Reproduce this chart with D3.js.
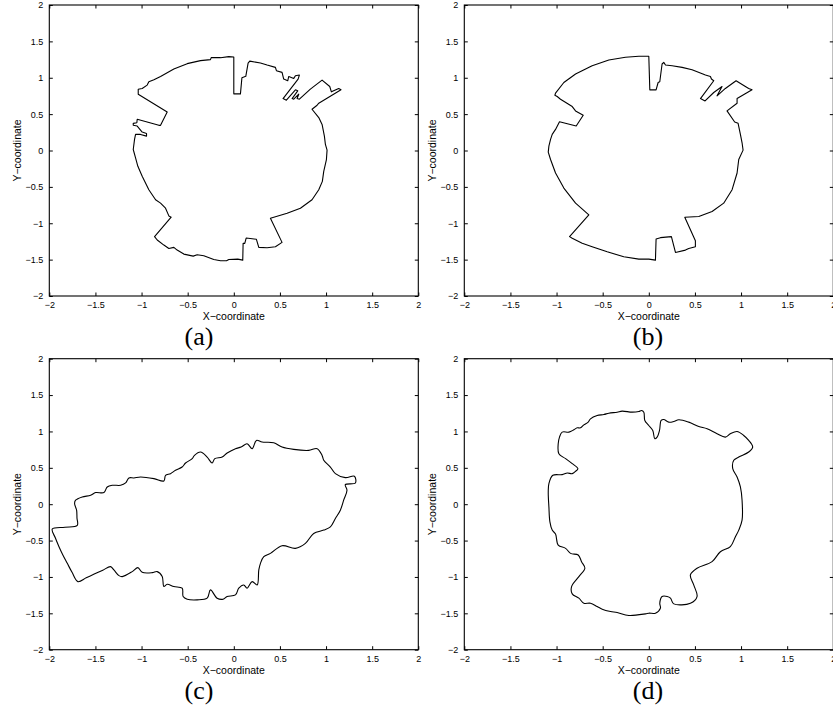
<!DOCTYPE html>
<html>
<head>
<meta charset="utf-8">
<script src="https://cdn.jsdelivr.net/npm/d3@7"></script>
<style>
  body { margin: 0; background: #fff; }
  svg { display: block; }
</style>
</head>
<body>
<script>
var width = 833,
    height = 708;

// tick values shared by both axes of every panel
var ticks = [-2, -1.5, -1, -0.5, 0, 0.5, 1, 1.5, 2];
var panelLabels = ["(a)", "(b)", "(c)", "(d)"];

// contour points [x, y]
var shapeA = [[0,1.285],[0,0.779],[0.072,0.779],[0.088,1.0],[0.13,1.02],[0.155,1.2],[0.173,1.228],[0.289,1.203],[0.361,1.175],[0.451,1.143],[0.462,1.097],[0.523,1.074],[0.541,0.982],[0.585,0.959],[0.596,1.018],[0.65,0.991],[0.668,1.028],[0.711,1.037],[0.697,0.982],[0.534,0.714],[0.570,0.691],[0.668,0.834],[0.693,0.820],[0.632,0.714],[0.650,0.705],[0.704,0.774],[0.686,0.714],[0.711,0.705],[0.83,0.843],[0.957,0.968],[1.04,0.88],[1.058,0.806],[1.137,0.853],[1.162,0.834],[0.921,0.650],[0.903,0.622],[0.848,0.567],[0.921,0.452],[0.957,0.359],[0.982,0.198],[0.993,0.083],[1.011,0.005],[1.004,-0.124],[0.975,-0.286],[0.960,-0.424],[0.921,-0.539],[0.848,-0.677],[0.722,-0.793],[0.578,-0.862],[0.397,-0.931],[0.523,-1.263],[0.451,-1.323],[0.361,-1.336],[0.271,-1.332],[0.245,-1.221],[0.199,-1.212],[0.134,-1.203],[0.119,-1.276],[0.101,-1.276],[0.097,-1.507],[0.043,-1.493],[-0.054,-1.498],[-0.079,-1.516],[-0.144,-1.516],[-0.217,-1.498],[-0.325,-1.447],[-0.397,-1.433],[-0.440,-1.452],[-0.542,-1.424],[-0.614,-1.369],[-0.650,-1.332],[-0.704,-1.346],[-0.758,-1.300],[-0.830,-1.230],[-0.859,-1.184],[-0.679,-0.917],[-0.704,-0.899],[-0.740,-0.793],[-0.794,-0.724],[-0.848,-0.677],[-0.921,-0.539],[-0.993,-0.355],[-1.040,-0.217],[-1.065,-0.101],[-1.090,0.014],[-1.076,0.152],[-1.065,0.221],[-1.011,0.221],[-0.946,0.198],[-0.946,0.235],[-0.993,0.253],[-1.047,0.336],[-1.090,0.346],[-1.090,0.373],[-1.051,0.382],[-1.047,0.429],[-0.812,0.346],[-0.794,0.346],[-0.722,0.530],[-1.036,0.774],[-1.036,0.843],[-0.993,0.853],[-0.939,0.899],[-0.921,0.945],[-0.866,0.972],[-0.794,1.018],[-0.650,1.120],[-0.505,1.194],[-0.361,1.235],[-0.253,1.249],[-0.245,1.276],[-0.144,1.276],[-0.054,1.290]];

var shapeB = [[-1.018,0.760],[-1.011,0.788],[-0.921,0.935],[-0.794,1.051],[-0.614,1.166],[-0.433,1.244],[-0.253,1.281],[-0.108,1.295],[0,1.295],[0.011,0.834],[0.079,0.834],[0.101,0.935],[0.119,0.945],[0.144,1.189],[0.162,1.212],[0.181,1.175],[0.253,1.166],[0.361,1.143],[0.469,1.111],[0.614,1.037],[0.668,1.018],[0.679,0.982],[0.704,0.959],[0.560,0.714],[0.610,0.682],[0.704,0.797],[0.794,0.880],[0.740,0.751],[0.830,0.853],[0.946,0.959],[1.047,0.880],[1.083,0.853],[1.119,0.834],[0.957,0.714],[0.957,0.650],[0.848,0.544],[0.931,0.392],[0.968,0.373],[0.993,0.221],[1.011,0.106],[1.022,0.005],[0.975,-0.124],[0.957,-0.309],[0.903,-0.539],[0.812,-0.724],[0.686,-0.839],[0.542,-0.908],[0.390,-0.917],[0.505,-1.240],[0.505,-1.323],[0.433,-1.346],[0.397,-1.369],[0.289,-1.401],[0.245,-1.184],[0.126,-1.198],[0.079,-1.217],[0.072,-1.507],[0,-1.493],[-0.108,-1.493],[-0.271,-1.461],[-0.451,-1.392],[-0.614,-1.323],[-0.722,-1.276],[-0.830,-1.207],[-0.859,-1.184],[-0.650,-0.885],[-0.794,-0.724],[-0.921,-0.516],[-1.011,-0.309],[-1.065,-0.124],[-1.090,-0.023],[-1.083,0.060],[-1.065,0.152],[-1.047,0.221],[-1.011,0.290],[-0.968,0.396],[-0.787,0.336],[-0.711,0.484],[-0.794,0.544],[-0.830,0.604],[-0.957,0.705],[-0.993,0.742]];

var shapeC = [[-1.968,-0.342],[-1.83,-0.317],[-1.697,-0.292],[-1.70,-0.19],[-1.704,-0.082],[-1.726,0.009],[-1.715,0.055],[-1.643,0.100],[-1.552,0.123],[-1.498,0.160],[-1.408,0.160],[-1.372,0.237],[-1.318,0.260],[-1.227,0.260],[-1.173,0.292],[-1.137,0.361],[-1.083,0.361],[-1.011,0.374],[-0.866,0.352],[-0.758,0.320],[-0.740,0.397],[-0.686,0.420],[-0.632,0.466],[-0.560,0.511],[-0.523,0.566],[-0.451,0.626],[-0.426,0.671],[-0.361,0.717],[-0.289,0.648],[-0.235,0.566],[-0.206,0.626],[-0.126,0.648],[-0.072,0.703],[0.018,0.763],[0.079,0.785],[0.144,0.831],[0.199,0.763],[0.245,0.877],[0.307,0.854],[0.433,0.845],[0.523,0.785],[0.650,0.753],[0.812,0.740],[0.903,0.763],[0.957,0.671],[0.975,0.603],[1.047,0.511],[1.101,0.420],[1.209,0.365],[1.307,0.384],[1.318,0.292],[1.209,0.269],[1.227,0.192],[1.191,0.055],[1.155,-0.082],[1.101,-0.196],[1.047,-0.311],[0.975,-0.356],[0.866,-0.402],[0.776,-0.539],[0.668,-0.607],[0.523,-0.571],[0.397,-0.676],[0.325,-0.721],[0.289,-0.813],[0.271,-0.904],[0.253,-1.110],[0.199,-1.064],[0.144,-1.155],[0.108,-1.110],[0.054,-1.155],[0.018,-1.247],[-0.072,-1.269],[-0.116,-1.306],[-0.181,-1.292],[-0.253,-1.178],[-0.289,-1.292],[-0.397,-1.315],[-0.505,-1.306],[-0.549,-1.269],[-0.560,-1.155],[-0.650,-1.132],[-0.722,-1.100],[-0.758,-1.132],[-0.776,-0.995],[-0.830,-0.927],[-0.884,-0.941],[-0.993,-0.936],[-1.040,-0.872],[-1.101,-0.927],[-1.209,-0.995],[-1.245,-0.982],[-1.300,-0.904],[-1.336,-0.858],[-1.42,-0.907],[-1.513,-0.961],[-1.60,-1.012],[-1.690,-1.064],[-1.752,-0.94],[-1.805,-0.813],[-1.853,-0.698],[-1.895,-0.584],[-1.935,-0.462]];

var shapeD = [[-0.939,0.991],[-0.866,0.991],[-0.812,1.023],[-0.776,1.050],[-0.740,1.050],[-0.704,1.091],[-0.657,1.128],[-0.632,1.174],[-0.560,1.219],[-0.487,1.233],[-0.433,1.251],[-0.343,1.265],[-0.289,1.279],[-0.181,1.265],[-0.108,1.274],[-0.079,1.288],[-0.054,1.265],[-0.043,1.151],[0,1.082],[0.043,1.014],[0.065,0.900],[0.090,0.922],[0.116,1.014],[0.134,1.151],[0.162,1.164],[0.217,1.128],[0.271,1.137],[0.325,1.160],[0.433,1.128],[0.542,1.068],[0.632,1.037],[0.740,0.968],[0.830,0.922],[0.884,0.968],[0.957,1.000],[1.029,0.945],[1.083,0.877],[1.126,0.785],[1.083,0.717],[0.975,0.648],[0.921,0.603],[0.910,0.489],[0.957,0.374],[0.993,0.237],[1.011,0.055],[1.011,-0.219],[0.975,-0.356],[0.939,-0.447],[0.884,-0.584],[0.776,-0.653],[0.686,-0.790],[0.523,-0.881],[0.451,-0.973],[0.487,-1.110],[0.523,-1.269],[0.451,-1.361],[0.271,-1.370],[0.235,-1.292],[0.199,-1.269],[0.144,-1.269],[0.119,-1.361],[0.126,-1.429],[0.072,-1.498],[0,-1.498],[-0.036,-1.507],[-0.217,-1.530],[-0.343,-1.489],[-0.415,-1.475],[-0.505,-1.443],[-0.560,-1.406],[-0.632,-1.361],[-0.704,-1.361],[-0.758,-1.292],[-0.830,-1.233],[-0.837,-1.132],[-0.758,-0.995],[-0.693,-0.881],[-0.729,-0.790],[-0.765,-0.699],[-0.848,-0.676],[-0.902,-0.607],[-0.982,-0.562],[-1.011,-0.411],[-1.047,-0.356],[-1.072,-0.242],[-1.083,-0.037],[-1.090,0.169],[-1.083,0.283],[-1.040,0.397],[-0.939,0.406],[-0.884,0.429],[-0.830,0.420],[-0.794,0.452],[-0.769,0.489],[-0.830,0.557],[-0.902,0.626],[-0.975,0.694],[-0.982,0.831],[-0.968,0.922]];

var pw = 369, ph = 291;

var panels = [
    { left: 49.3,  top: 5,     shape: shapeA, label: panelLabels[0], lx: 199, curve: d3.curveLinearClosed },
    { left: 464.3, top: 5,     shape: shapeB, label: panelLabels[1], lx: 648, curve: d3.curveLinearClosed },
    { left: 49.3,  top: 358.7, shape: shapeC, label: panelLabels[2], lx: 199, curve: d3.curveCatmullRomClosed.alpha(0.5) },
    { left: 464.3, top: 358.7, shape: shapeD, label: panelLabels[3], lx: 648, curve: d3.curveCatmullRomClosed.alpha(0.5) }
];

var svg = d3.select("body").append("svg")
    .attr("width", width)
    .attr("height", height);

var x = d3.scaleLinear().domain([-2, 2]).range([0, pw]);
var y = d3.scaleLinear().domain([-2, 2]).range([ph, 0]);

var fmt = function (d) { return (d < 0 ? "\u2212" : "") + Math.abs(d); };

var line = d3.line()
    .x(function (d) { return x(d[0]); })
    .y(function (d) { return y(d[1]); });

panels.forEach(function (p) {
    var g = svg.append("g")
        .attr("transform", "translate(" + p.left + "," + p.top + ")");

    // inward ticks on all four sides, labels only bottom and left
    var axes = [
        { ax: d3.axisBottom(x).tickFormat(fmt).tickPadding(5.5), t: "translate(0," + ph + ")" },
        { ax: d3.axisLeft(y).tickFormat(fmt).tickPadding(6), t: null },
        { ax: d3.axisTop(x).tickFormat(""), t: null },
        { ax: d3.axisRight(y).tickFormat(""), t: "translate(" + pw + ",0)" }
    ];
    axes.forEach(function (a) {
        var ag = g.append("g");
        if (a.t) ag.attr("transform", a.t);
        ag.call(a.ax.tickValues(ticks).tickSizeInner(-3.5).tickSizeOuter(0));
        ag.select(".domain").remove();
        ag.selectAll("line").attr("stroke", "#000").attr("stroke-width", 1);
        ag.attr("font-family", "Liberation Sans, Arial, sans-serif")
            .attr("font-size", 9);
        ag.selectAll("text").attr("fill", "#000");
    });

    g.append("rect")
        .attr("width", pw)
        .attr("height", ph)
        .attr("fill", "none")
        .attr("stroke", "#000")
        .attr("stroke-width", 1.1);

    g.append("path")
        .datum(p.shape)
        .attr("d", line.curve(p.curve))
        .attr("fill", "none")
        .attr("stroke", "#000")
        .attr("stroke-width", 1.1)
        .attr("stroke-linejoin", "round");

    g.append("text")
        .attr("x", pw / 2)
        .attr("y", ph + 24)
        .attr("text-anchor", "middle")
        .attr("font-family", "Liberation Sans, Arial, sans-serif")
        .attr("font-size", 10.5)
        .text("X\u2212coordinate");

    g.append("text")
        .attr("transform", "translate(-28.8," + (ph / 2) + ") rotate(-90)")
        .attr("text-anchor", "middle")
        .attr("font-family", "Liberation Sans, Arial, sans-serif")
        .attr("font-size", 10.5)
        .text("Y\u2212coordinate");

    svg.append("text")
        .attr("x", p.lx)
        .attr("y", p.top + 340)
        .attr("text-anchor", "middle")
        .attr("font-family", "Liberation Serif, Times New Roman, serif")
        .attr("font-size", 26)
        .text(p.label);
});
</script>
</body>
</html>
